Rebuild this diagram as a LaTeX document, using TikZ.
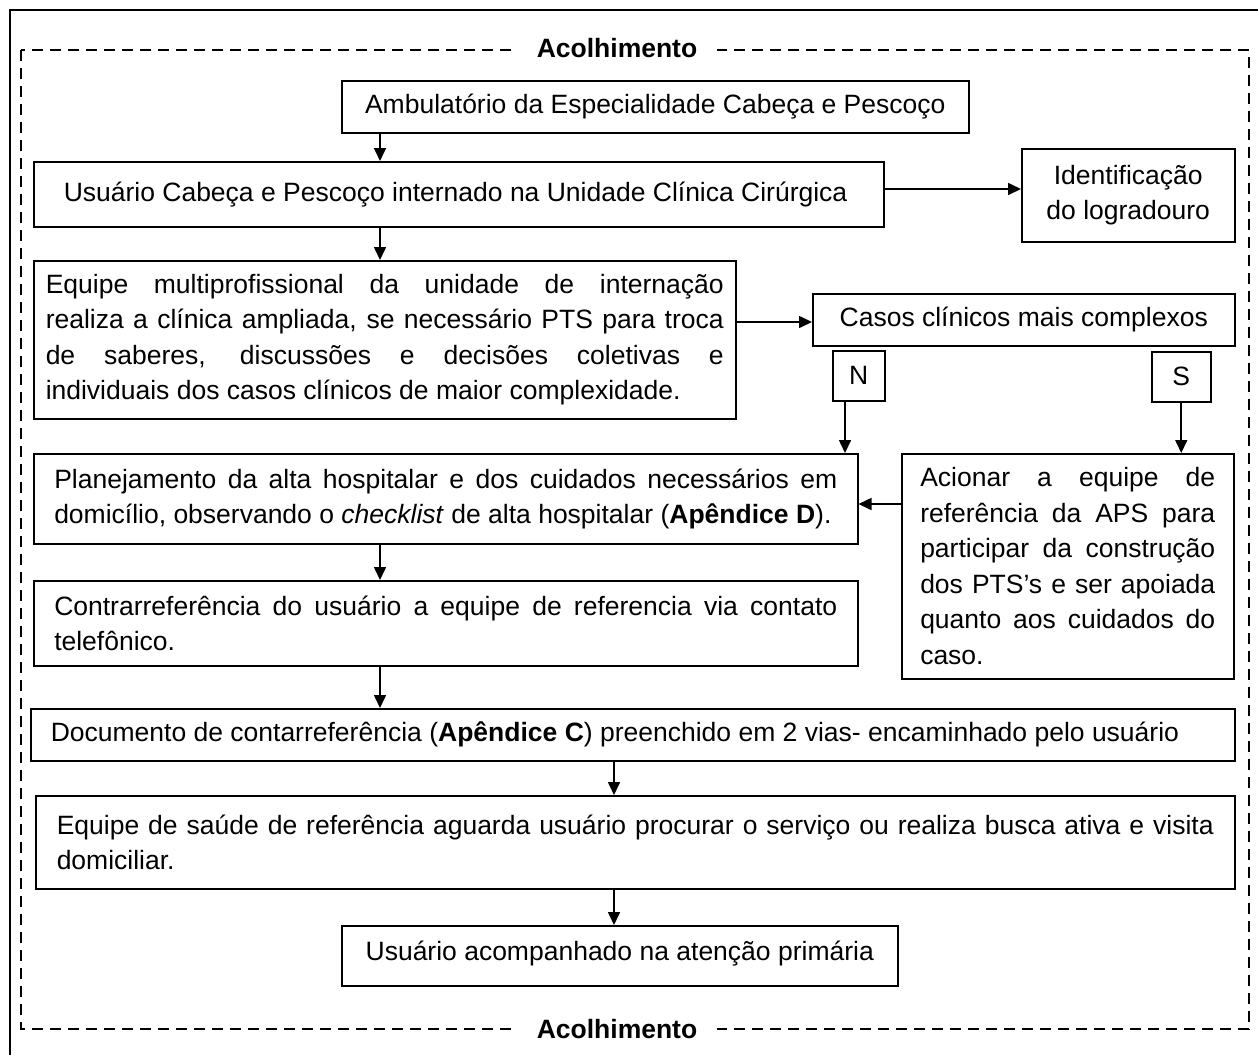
\documentclass[tikz,border=0pt]{standalone}
\usepackage{fontspec}
\setmainfont{Liberation Sans}
\usetikzlibrary{arrows.meta,calc}
\newcommand{\fz}{\fontsize{26.5pt}{35.5pt}\selectfont}
\newcommand{\ns}{\spaceskip=0pt\xspaceskip=0pt\relax}
\newcommand{\jl}[2]{{\ns\makebox[#1pt][s]{#2}}}
\begin{document}
\begin{tikzpicture}[x=1pt,y=-1pt,
  bx/.style={draw, line width=1.5pt, anchor=north west, inner sep=0pt, font=\fz},
  arr/.style={line width=1.6pt, -{Triangle[length=13pt,width=12pt]}},
  lab/.style={fill=white, inner xsep=20pt, inner ysep=2pt, font=\fz\bfseries}]
\useasboundingbox (0,0) rectangle (1258,1055);
% outer frame
\draw[line width=2.2pt] (1258,10) -- (10,10) -- (10,1055);
% dashed frame
\draw[line width=2.2pt, dash pattern=on 11pt off 7pt] (21,50) rectangle (1249,1029);
\node[lab] (acT) at (617,48) {\ns Acolhimento};
\node[lab] (acB) at (617,1029) {\ns Acolhimento};

% boxes
\node[bx, minimum width=627pt, minimum height=52pt, align=center] (amb) at (341,80)
  {\ns Ambulatório da Especialidade Cabeça e Pescoço};
\node[bx, minimum width=850pt, minimum height=65pt, text width=790pt, align=left] (usu) at (33,161)
  {\ns Usuário Cabeça e Pescoço internado na Unidade Clínica Cirúrgica};
\node[bx, minimum width=213pt, minimum height=93pt, align=center] (ident) at (1021,148)
  {\ns Identificação\\\ns do logradouro};
\node[bx, minimum width=702pt, minimum height=158pt, text width=678pt, align=left] (equ) at (33,260)
  {\ns\jl{678}{Equipe multiprofissional da unidade de internação}\\
   \jl{678}{realiza a clínica ampliada, se necessário PTS para troca}\\
   \jl{678}{de saberes, discussões e decisões coletivas e}\\
   \ns individuais dos casos clínicos de maior complexidade.};
\node[bx, minimum width=422pt, minimum height=52pt, align=center] (casos) at (812,293)
  {\ns Casos clínicos mais complexos};
\node[bx, minimum width=52pt, minimum height=50pt, align=center] (N) at (832,350) {N};
\node[bx, minimum width=59pt, minimum height=50pt, align=center] (S) at (1151,351) {S};
\node[bx, minimum width=824pt, minimum height=90pt, text width=783pt, align=left] (plan) at (33,453)
  {\ns\jl{783}{Planejamento da alta hospitalar e dos cuidados necessários em}\\
   \ns domicílio, observando o \textit{checklist} de alta hospitalar (\textbf{Apêndice D}).};
\node[bx, minimum width=332pt, minimum height=225pt, text width=295pt, align=left] (acion) at (901,453)
  {\ns\jl{295}{Acionar a equipe de}\\
   \jl{295}{referência da APS para}\\
   \jl{295}{participar da construção}\\
   \jl{295}{dos PTS’s e ser apoiada}\\
   \jl{295}{quanto aos cuidados do}\\
   \ns caso.};
\node[bx, minimum width=824pt, minimum height=85pt, text width=783pt, align=left] (contra) at (33,580)
  {\ns\jl{783}{Contrarreferência do usuário a equipe de referencia via contato}\\
   \ns telefônico.};
\node[bx, minimum width=1204pt, minimum height=52pt, text width=1164pt, align=left] (doc) at (30,708)
  {\ns Documento de contarreferência (\textbf{Apêndice C}) preenchido em 2 vias- encaminhado pelo usuário};
\node[bx, minimum width=1199pt, minimum height=93pt, text width=1157pt, align=left] (saude) at (35,795)
  {\ns\jl{1157}{Equipe de saúde de referência aguarda usuário procurar o serviço ou realiza busca ativa e visita}\\
   \ns domiciliar.};
\node[bx, minimum width=556pt, minimum height=60pt, align=center] (final) at (341,925)
  {\ns\raisebox{10pt}{Usuário acompanhado na atenção primária}};

% helper coordinates
\coordinate (xa) at (380,0);
\coordinate (xb) at (614,0);
\coordinate (xn) at (845,0);
\coordinate (yi) at (0,189);
\coordinate (ye) at (0,322);
\coordinate (yp) at (0,504);

% connectors
\draw[arr] (amb.south -| xa) -- (usu.north -| xa);
\draw[arr] (usu.east |- yi) -- (ident.west |- yi);
\draw[arr] (usu.south -| xa) -- (equ.north -| xa);
\draw[arr] (equ.east |- ye) -- (casos.west |- ye);
\draw[arr] (N.south -| xn) -- (plan.north -| xn);
\draw[arr] (S.south) -- (acion.north -| S.south);
\draw[arr] (acion.west |- yp) -- (plan.east |- yp);
\draw[arr] (plan.south -| xa) -- (contra.north -| xa);
\draw[arr] (contra.south -| xa) -- (doc.north -| xa);
\draw[arr] (doc.south -| xb) -- (saude.north -| xb);
\draw[arr] (saude.south -| xb) -- (final.north -| xb);
\end{tikzpicture}
\end{document}
